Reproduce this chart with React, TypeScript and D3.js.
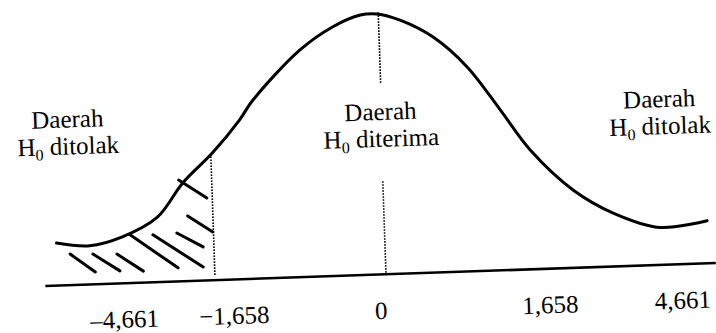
import React from "react";
import * as d3 from "d3";

const WIDTH = 716;
const HEIGHT = 333;
// the scanned figure sits a little crooked on the page
const TILT = -1.96;

// schematic curve: position along the axis, height relative to the peak
const curveU = [-5.47, -4.92, -4.37, -3.78, -3.33, -2.82, -2.35, -2.12, -1.3, -0.75, -0.28, 0, 0.38, 0.92, 1.47, 2.0, 2.47, 3.17, 3.82, 4.58, 5.38];
const curveH = [0.163, 0.148, 0.178, 0.248, 0.378, 0.489, 0.612, 0.685, 0.873, 0.956, 0.998, 1.0, 0.973, 0.904, 0.785, 0.615, 0.459, 0.298, 0.205, 0.144, 0.163];

const axisExtent = [-5.68, 5.5];

// tick labels and where they are printed under the axis
const tickText = ["\u20134,661", "\u22121,658", "0", "1,658", "4,661"];
const tickAt = [-4.38, -2.55, -0.1, 2.72, 4.93];

// dotted guide lines: [position, bottom, top]
const guides: [number, number, number][] = [
  [-2.85, 0.02, 0.489],
  [0.02, 0.735, 1.008],
  [0.0, 0.006, 0.363],
];

// hand drawn hatching in the left rejection region: [u0, h0, u1, h1]
const hatches: [number, number, number, number][] = [
  [-5.25, 0.119, -4.84, 0.047],
  [-4.87, 0.116, -4.43, 0.048],
  [-4.47, 0.113, -4.04, 0.044],
  [-4.24, 0.185, -3.46, 0.052],
  [-3.86, 0.182, -3.04, 0.052],
  [-3.46, 0.186, -3.03, 0.129],
  [-3.27, 0.25, -2.86, 0.185],
  [-3.4, 0.389, -2.94, 0.316],
];

// region captions: first line, subscript line tail, position of the first baseline
const regionTop = ["Daerah", "Daerah", "Daerah"];
const regionBottom = [" ditolak", " diterima", " ditolak"];
const regionU = [-5.22, 0.0, 4.65];
const regionH = [0.605, 0.593, 0.605];

const App = () => {
  const x = d3.scaleLinear().domain([-6, 6]).range([26, 746]);
  const y = d3.scaleLinear().domain([0, 1]).range([274.5, 14]);

  const pts: [number, number][] = curveU.map((u, i) => [u, curveH[i]]);
  const line = d3
    .line<[number, number]>()
    .x(d => x(d[0]))
    .y(d => y(d[1]))
    .curve(d3.curveCatmullRom.alpha(0.5));

  const font = "'Liberation Serif', 'Times New Roman', serif";

  return (
    <svg
      width={WIDTH}
      height={HEIGHT}
      style={{ position: "absolute", left: 0, top: 0, background: "#fff" }}
      fontFamily={font}
    >
      <g transform={`rotate(${TILT}, 380, 275)`}>
        {/* baseline */}
        <line
          x1={x(axisExtent[0])}
          x2={x(axisExtent[1])}
          y1={y(0)}
          y2={y(0)}
          stroke="#000"
          strokeWidth={2.6}
        />

        {/* curve */}
        <path d={line(pts) || ""} fill="none" stroke="#000" strokeWidth={3} strokeLinecap="round" />

        {/* dotted guides */}
        {guides.map(([u, h0, h1], i) => (
          <line
            key={i}
            x1={x(u)}
            x2={x(u)}
            y1={y(h0)}
            y2={y(h1)}
            stroke="#000"
            strokeWidth={1.6}
            strokeDasharray="1.6,1.4"
          />
        ))}

        {/* hatching */}
        {hatches.map(([u0, h0, u1, h1], i) => (
          <line
            key={i}
            x1={x(u0)}
            y1={y(h0)}
            x2={x(u1)}
            y2={y(h1)}
            stroke="#000"
            strokeWidth={3}
            strokeLinecap="round"
          />
        ))}

        {/* tick labels */}
        {tickText.map((t, i) => (
          <text key={t} x={x(tickAt[i])} y={y(0) + 44.5} textAnchor="middle" fontSize={25} fill="#000">
            {t}
          </text>
        ))}

        {/* region captions */}
        {regionTop.map((t, i) => (
          <g key={i}>
            <text x={x(regionU[i])} y={y(regionH[i])} textAnchor="middle" fontSize={25} fill="#000">
              {t}
            </text>
            <text x={x(regionU[i])} y={y(regionH[i]) + 27} textAnchor="middle" fontSize={25} fill="#000">
              H
              <tspan fontSize={16} dy={5}>
                0
              </tspan>
              <tspan dy={-5}>{regionBottom[i]}</tspan>
            </text>
          </g>
        ))}
      </g>
    </svg>
  );
};

export default App;
